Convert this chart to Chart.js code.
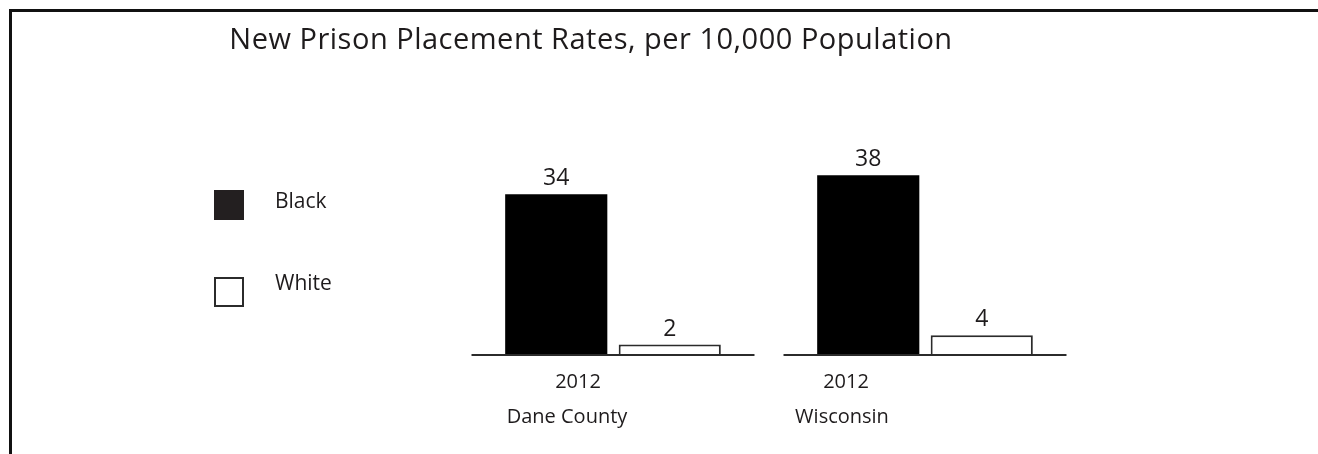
<!DOCTYPE html>
<html>
<head>
<meta charset="utf-8">
<script src="https://cdn.jsdelivr.net/npm/chart.js@4.4.0/dist/chart.umd.min.js"></script>
<style>
  html, body { margin: 0; padding: 0; background: #fff; overflow: hidden; }
  #frame { position: absolute; left: 9px; top: 9px; width: 1400px; height: 500px; border-left: 3px solid #111; border-top: 3px solid #111; }
  #wrap { position: absolute; left: 0; top: 0; width: 1318px; height: 454px; }
</style>
</head>
<body>
<div id="frame"></div>
<div id="wrap"><canvas id="myChart" width="1318" height="454"></canvas></div>
<script>
const chartTitle = "New Prison Placement Rates, per 10,000 Population";
const places = ["Dane County", "Wisconsin"];
const years = ["2012", "2012"];
const seriesNames = ["Black", "White"];
const blackRates = [34, 38];
const whiteRates = [2, 4];

const textColor = "#1e1b1c";
const fontFamily = "'Open Sans', sans-serif";

// title, legend, value labels, baselines and group labels
const decorations = {
  id: "decorations",
  afterDatasetsDraw(chart) {
    const ctx = chart.ctx;
    const xScale = chart.scales.x;
    const yScale = chart.scales.y;
    const zero = yScale.getPixelForValue(0);
    const catWidth = xScale.width / places.length;
    const half = catWidth * 0.907 / 2;

    ctx.save();
    ctx.strokeStyle = "#2b2b2b";
    ctx.lineWidth = 2;
    places.forEach((p, i) => {
      const cx = xScale.getPixelForValue(i);
      ctx.beginPath();
      ctx.moveTo(cx - half, zero + 1);
      ctx.lineTo(cx + half, zero + 1);
      ctx.stroke();
    });

    // values above bars
    ctx.fillStyle = textColor;
    ctx.font = "23px " + fontFamily;
    ctx.textAlign = "center";
    ctx.textBaseline = "alphabetic";
    chart.data.datasets.forEach((ds, d) => {
      chart.getDatasetMeta(d).data.forEach((bar, i) => {
        ctx.fillText(String(ds.data[i]), bar.x, bar.y - 9);
      });
    });

    // year and place under each group
    const yearShift = [-35, -79];
    const placeShift = [-46, -83];
    ctx.font = "20px " + fontFamily;
    places.forEach((p, i) => {
      const cx = xScale.getPixelForValue(i);
      ctx.fillText(years[i], cx + yearShift[i], zero + 34);
      ctx.fillText(p, cx + placeShift[i], zero + 69);
    });
    ctx.restore();
  },
  afterDraw(chart) {
    const ctx = chart.ctx;
    ctx.save();
    ctx.fillStyle = textColor;
    ctx.font = "29px " + fontFamily;
    ctx.letterSpacing = "0.5px";
    ctx.textAlign = "center";
    ctx.textBaseline = "alphabetic";
    ctx.fillText(chartTitle, 591, 49);
    ctx.letterSpacing = "0px";

    // legend
    ctx.font = "21px " + fontFamily;
    ctx.textAlign = "left";
    ctx.textBaseline = "middle";
    chart.data.datasets.forEach((ds, d) => {
      const top = 190 + d * 87;
      ctx.fillStyle = ds.legendFill;
      ctx.fillRect(214, top, 30, 30);
      if (ds.borderWidth) {
        ctx.strokeStyle = ds.borderColor;
        ctx.lineWidth = 2;
        ctx.strokeRect(215, top + 1, 28, 28);
      }
      ctx.fillStyle = textColor;
      ctx.fillText(ds.label, 275, top + 12 - d * 5);
    });
    ctx.restore();
  }
};

myChart = new Chart(document.getElementById("myChart").getContext("2d"), {
  type: "bar",
  data: {
    labels: places,
    datasets: [
      {
        label: seriesNames[0],
        data: blackRates,
        backgroundColor: "#000000",
        legendFill: "#231f20",
        borderWidth: 0,
        categoryPercentage: 0.7276,
        barPercentage: 0.9,
      },
      {
        label: seriesNames[1],
        data: whiteRates,
        backgroundColor: "#ffffff",
        legendFill: "#ffffff",
        borderColor: "#2b2b2b",
        borderWidth: 2,
        categoryPercentage: 0.7276,
        barPercentage: 0.9,
      },
    ],
  },
  options: {
    responsive: false,
    animation: false,
    devicePixelRatio: 1,
    layout: {
      padding: { left: 457, right: 237, top: 133, bottom: 100 },
    },
    plugins: {
      legend: { display: false },
      title: { display: false },
      tooltip: { enabled: false },
    },
    scales: {
      x: { display: false },
      y: { display: false, min: 0, max: 47 },
    },
  },
  plugins: [decorations],
});
</script>
</body>
</html>
